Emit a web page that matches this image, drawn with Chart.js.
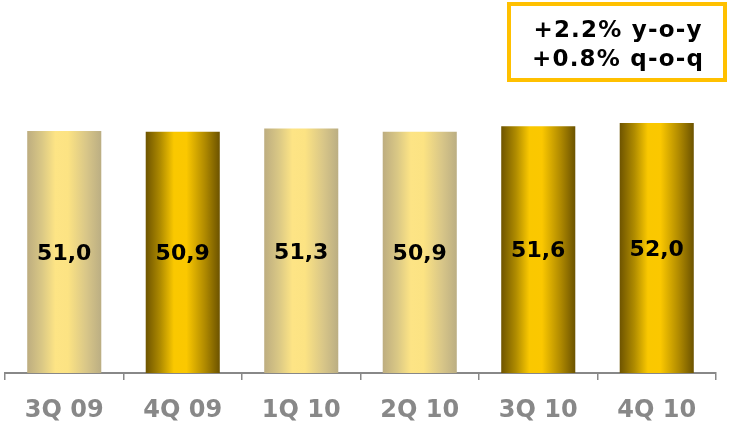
<!DOCTYPE html>
<html>
<head>
<meta charset="utf-8">
<script src="https://cdn.jsdelivr.net/npm/chart.js@4/dist/chart.umd.min.js"></script>
<style>
html,body{margin:0;padding:0;background:#fff;}
#wrap{width:729px;height:421px;}
</style>
</head>
<body>
<div id="wrap"><canvas id="c" width="729" height="421"></canvas></div>
<script>
const categories = ["3Q 09", "4Q 09", "1Q 10", "2Q 10", "3Q 10", "4Q 10"];
const values = [51.0, 50.9, 51.3, 50.9, 51.6, 52.0];
const barStyle = ["light", "dark", "light", "light", "dark", "dark"];
const noteLines = ["+2.2% y-o-y", "+0.8% q-o-q"];

const FONT = "'DejaVu Sans', Verdana, sans-serif";
const BAR_PCT = 0.625;

function barGradient(ctx) {
  const chart = ctx.chart;
  const xs = chart.scales && chart.scales.x;
  const i = ctx.dataIndex;
  const fallback = barStyle[i] === 'dark' ? '#fac800' : '#fde485';
  if (!xs || i === undefined) return fallback;
  const cx = xs.getPixelForValue(i);
  const catW = xs.width / categories.length;
  const half = catW * BAR_PCT / 2;
  if (!isFinite(cx) || !isFinite(half) || half <= 0) return fallback;
  const g = chart.ctx.createLinearGradient(cx - half, 0, cx + half, 0);
  if (barStyle[i] === 'dark') {
    g.addColorStop(0, '#6e5400');
    g.addColorStop(0.2, '#b08c00');
    g.addColorStop(0.38, '#fac800');
    g.addColorStop(0.55, '#fbc800');
    g.addColorStop(0.8, '#b08a00');
    g.addColorStop(1, '#6c5300');
  } else {
    g.addColorStop(0, '#bdad80');
    g.addColorStop(0.2, '#dac885');
    g.addColorStop(0.38, '#fde485');
    g.addColorStop(0.55, '#fce383');
    g.addColorStop(0.8, '#d8c688');
    g.addColorStop(1, '#bbae83');
  }
  return g;
}

const valueLabels = {
  id: 'valueLabels',
  afterDatasetsDraw(chart) {
    const c = chart.ctx;
    const meta = chart.getDatasetMeta(0);
    const bottom = chart.chartArea.bottom;
    c.save();
    c.font = "bold 22px " + FONT;
    c.fillStyle = '#000';
    c.textAlign = 'center';
    c.textBaseline = 'middle';
    meta.data.forEach((el, i) => {
      const txt = values[i].toFixed(1).replace('.', ',');
      c.fillText(txt, el.x, (el.y + bottom) / 2 + 2);
    });
    c.restore();
  }
};

const noteBox = {
  id: 'noteBox',
  afterDraw(chart) {
    const c = chart.ctx;
    c.save();
    c.strokeStyle = '#ffc000';
    c.lineWidth = 4;
    c.strokeRect(509, 4, 216, 76);
    c.font = "bold 23px " + FONT;
    c.fillStyle = '#000';
    c.textAlign = 'center';
    c.textBaseline = 'middle';
    try { c.letterSpacing = '1.2px'; } catch (e) {}
    c.fillText(noteLines[0], 618, 31);
    c.fillText(noteLines[1], 618, 60);
    c.restore();
  }
};

new Chart(document.getElementById('c'), {
  type: 'bar',
  data: {
    labels: categories,
    datasets: [{
      data: values,
      backgroundColor: barGradient,
      borderWidth: 0,
      barPercentage: BAR_PCT,
      categoryPercentage: 1.0
    }]
  },
  options: {
    responsive: false,
    animation: false,
    devicePixelRatio: 1,
    layout: { padding: { left: 5, right: 13, top: 0, bottom: 0 } },
    plugins: { legend: { display: false }, tooltip: { enabled: false } },
    scales: {
      y: { display: false, min: 20.75, max: 67.375 },
      x: {
        afterFit: (scale) => { scale.height = 48; },
        grid: { display: true, drawOnChartArea: false, offset: true, tickLength: 7, color: '#888888', lineWidth: 1.5 },
        border: { display: true, color: '#888888', width: 2 },
        ticks: {
          color: '#888888',
          padding: 19,
          font: { family: FONT, size: 24, weight: 'bold', lineHeight: 1 }
        }
      }
    }
  },
  plugins: [valueLabels, noteBox]
});
</script>
</body>
</html>
